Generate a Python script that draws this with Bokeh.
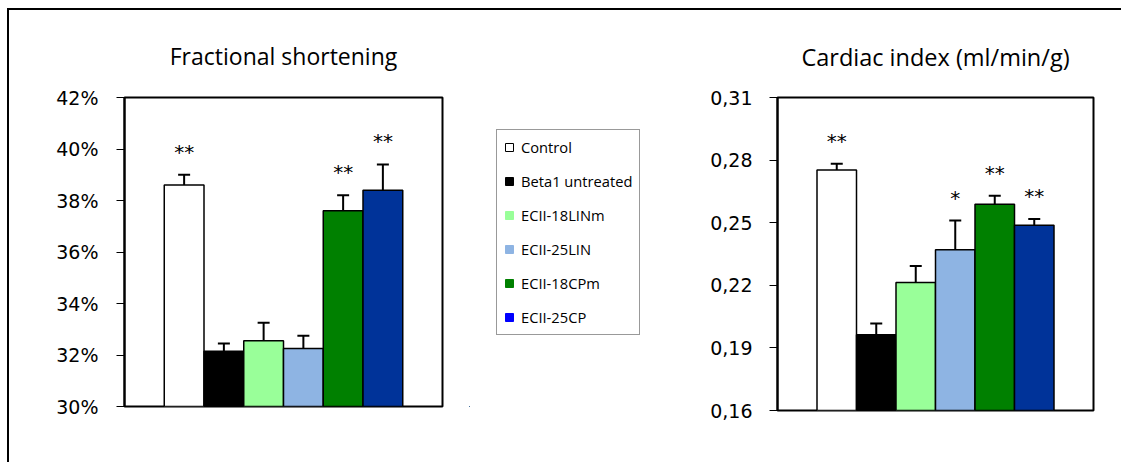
from bokeh.plotting import figure
from bokeh.models import (Range1d, FixedTicker, PrintfTickFormatter, CustomJSTickFormatter,
                          ColumnDataSource, Whisker, TeeHead, Legend, LegendItem, Div)
from bokeh.layouts import row, column
from bokeh.embed import file_html
from bokeh.resources import INLINE
from bokeh.core.properties import value

# ---------------- data ----------------
groups = ["Control", "Beta1 untreated", "ECII-18LINm", "ECII-25LIN", "ECII-18CPm", "ECII-25CP"]
bar_colors = ["#FFFFFF", "#000000", "#99FF99", "#8EB4E3", "#008000", "#003399"]
legend_colors = ["#FFFFFF", "#000000", "#99FF99", "#8EB4E3", "#008000", "#0000FF"]

fs_title = "Fractional shortening"
fs_mean = [38.6, 32.15, 32.55, 32.25, 37.6, 38.4]
fs_sem = [0.4, 0.3, 0.7, 0.5, 0.6, 1.0]
fs_stars = ["**", "", "", "", "**", "**"]
fs_ticks = [30, 32, 34, 36, 38, 40, 42]

ci_title = "Cardiac index (ml/min/g)"
ci_mean = [0.2753, 0.1963, 0.2213, 0.2370, 0.2589, 0.2488]
ci_sem = [0.0030, 0.0054, 0.0080, 0.0140, 0.0040, 0.0030]
ci_stars = ["**", "", "", "*", "**", "**"]
ci_ticks = [0.16, 0.19, 0.22, 0.25, 0.28, 0.31]


def make_chart(title, means, sems, stars, ticks, formatter, frame_w, frame_h,
               b_left, b_right, b_top, b_bottom, standoff, label_standoff, title_size):
    n = len(means)
    xs = [i + 1.5 for i in range(n)]
    src = ColumnDataSource(dict(
        x=xs, top=means, upper=[m + s for m, s in zip(means, sems)],
        color=bar_colors, stars=stars))
    p = figure(frame_width=frame_w, frame_height=frame_h,
               x_range=Range1d(0, n + 2), y_range=Range1d(ticks[0], ticks[-1]),
               min_border_left=b_left, min_border_right=b_right,
               min_border_top=b_top, min_border_bottom=b_bottom,
               toolbar_location=None, output_backend="svg", title=title)
    p.title.align = "center"
    p.title.text_font = "Open Sans"
    p.title.text_font_size = title_size
    p.title.text_font_style = "normal"
    p.title.text_color = "black"
    p.title.standoff = standoff
    p.background_fill_color = "white"
    p.border_fill_color = "white"
    p.outline_line_color = "black"
    p.outline_line_width = 2
    p.outline_line_alpha = 1
    p.xgrid.visible = False
    p.ygrid.visible = False
    p.xaxis.visible = False

    ax = p.yaxis[0]
    ax.ticker = FixedTicker(ticks=ticks)
    ax.formatter = formatter
    ax.major_label_text_font = "DejaVu Sans"
    ax.major_label_text_font_size = "19px"
    ax.major_label_text_color = "black"
    ax.major_tick_out = 8
    ax.major_tick_in = 0
    ax.major_tick_line_color = "black"
    ax.major_tick_line_width = 1
    ax.minor_tick_line_color = None
    ax.axis_line_color = "black"
    ax.axis_line_width = 2
    ax.major_label_standoff = label_standoff

    p.vbar(x="x", top="top", bottom=ticks[0], width=1, fill_color="color",
           line_color="black", line_width=1.5, source=src)
    p.add_layout(Whisker(source=src, base="x", lower="top", upper="upper",
                         dimension="height", line_color="black", line_width=2,
                         lower_head=None,
                         upper_head=TeeHead(size=12, line_color="black", line_width=2)))
    p.text(x="x", y="upper", text="stars", source=src,
           text_font=value("DejaVu Sans"), text_font_size="20px",
           text_align="center", text_baseline="alphabetic", y_offset=-23,
           text_color="black")
    return p


p1 = make_chart(fs_title, fs_mean, fs_sem, fs_stars, fs_ticks,
                PrintfTickFormatter(format="%d%%"),
                318, 309, 115, 27, 87, 56, 51, 18, "23px")

p2 = make_chart(ci_title, ci_mean, ci_sem, ci_stars, ci_ticks,
                CustomJSTickFormatter(code="return tick.toFixed(2).replace('.', ',');"),
                316, 313, 118, 28, 86, 53, 50, 17, "23.5px")

# ---------------- legend panel ----------------
pm = figure(frame_width=190, frame_height=309, x_range=Range1d(0, 1), y_range=Range1d(0, 1),
            min_border_left=0, min_border_right=0, min_border_top=87, min_border_bottom=56,
            toolbar_location=None, output_backend="svg")
pm.outline_line_color = None
pm.axis.visible = False
pm.grid.visible = False
pm.background_fill_color = "white"
pm.border_fill_color = "white"

items = []
for g, c in zip(groups, legend_colors):
    lc = "black" if c == "#FFFFFF" else c
    # proxy glyphs placed entirely outside the visible range: only their legend swatch shows
    r = pm.vbar(x=[-5], top=[-5], bottom=-6, width=1, fill_color=c, line_color=lc, line_width=1)
    items.append(LegendItem(label=g, renderers=[r]))

leg = Legend(items=items, location=(27, 71), orientation="vertical",
             label_text_font="Open Sans", label_text_font_size="14.7px",
             label_text_color="black",
             glyph_width=10, glyph_height=10, label_height=10,
             label_standoff=7, spacing=14, padding=7, margin=0,
             border_line_color="#333333", border_line_width=1,
             background_fill_color="white", background_fill_alpha=1)
pm.add_layout(leg)

# ---------------- outer frame (top and left rules) ----------------
top_rule = Div(text="", width=1114, height=2, margin=0,
               styles={"background-color": "black"})
left_rule = Div(text="", width=2, height=452, margin=0,
                styles={"background-color": "black"})

layout = column(top_rule, row(left_rule, p1, pm, p2),
                styles={"margin-top": "8px", "margin-left": "7px"})

open("out.html", "w").write(file_html(layout, INLINE))
